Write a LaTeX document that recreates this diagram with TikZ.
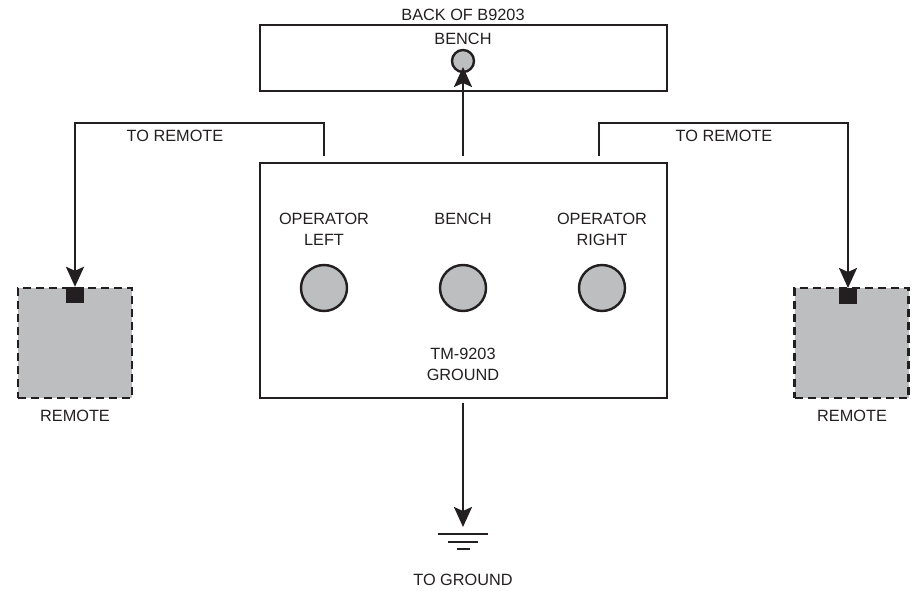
\documentclass[tikz,border=0pt]{standalone}
\usepackage{fontspec}
\setmainfont{Liberation Sans}
\usetikzlibrary{arrows.meta,calc}
\definecolor{ink}{HTML}{231F20}
\definecolor{jackgray}{HTML}{BCBEC0}
\begin{document}
\begin{tikzpicture}[x=1pt, y=1pt,
    every node/.style={font=\fontsize{16.3}{21}\selectfont, text=ink, align=center, inner sep=0pt},
    box/.style={draw=ink, line width=2.5pt, minimum width=407pt},
    jack/.style={circle, draw=ink, fill=jackgray, line width=2.4pt, minimum size=#1},
    remote/.style={draw=ink, fill=jackgray, line width=2.4pt, dash pattern=on 8pt off 5pt,
        minimum width=114pt, minimum height=110pt},
    plug/.style={fill=ink, minimum width=18pt, minimum height=16pt},
    wire/.style={draw=ink, line width=2.4pt, -{Stealth[length=20pt, width=18pt, inset=4pt]}},
    gnd/.style={draw=ink, line width=2.4pt}]
    \useasboundingbox (0,0) rectangle (913,590);

    % Back of B9203
    \node[box, minimum height=66pt] (back) at (463.5,532) {};
    \node (backlbl) at (463,575) {BACK OF B9203};
    \node (benchlbl) at (463,551) {BENCH};
    \node[jack=22pt] (benchjack) at (463,529) {};

    % TM-9203 panel
    \node[box, minimum height=235pt] (panel) at (463.5,309.5) {};
    \node (oplbl) at (324,360.5) {OPERATOR\\LEFT};
    \node (bnlbl) at (463,371) {BENCH};
    \node (orlbl) at (602,360.5) {OPERATOR\\RIGHT};
    \node[jack=46pt] (jackL) at (324,302) {};
    \node[jack=46pt] (jackB) at (463,302) {};
    \node[jack=46pt] (jackR) at (602,302) {};
    \node (tmlbl) at (463,226) {TM-9203\\GROUND};

    % Remotes
    \node[remote] (remL) at (75,247) {};
    \node[remote] (remR) at (851.5,247) {};
    \node[plug, anchor=north] (plugL) at (remL.north) {};
    \node[plug, anchor=north] (plugR) at (848,302) {};
    \node (remLlbl) at (75,174) {REMOTE};
    \node (remRlbl) at (852,174) {REMOTE};

    % Wires
    \coordinate (tapL) at (324,434);
    \coordinate (tapB) at (463,434);
    \coordinate (tapR) at (599,434);
    \coordinate (tapG) at (463,187);
    \coordinate (benchend) at (463,523);
    \coordinate (gndtip) at (463,63);

    \draw[wire] (tapL) -- (324,467) -| (plugL.north);
    \draw[wire] (tapR) -- (599,467) -| (plugR.north);
    \draw[wire] (tapB) -- (benchend);
    \draw[wire] (tapG) -- (gndtip);

    \node (toremL) at (175,454) {TO REMOTE};
    \node (toremR) at (724,454) {TO REMOTE};

    % Ground symbol
    \draw[gnd] (438,56) -- (488,56);
    \draw[gnd] (448,48) -- (478,48);
    \draw[gnd] (457,41) -- (470,41);
    \node (gndlbl) at (463,10) {TO GROUND};
\end{tikzpicture}
\end{document}
